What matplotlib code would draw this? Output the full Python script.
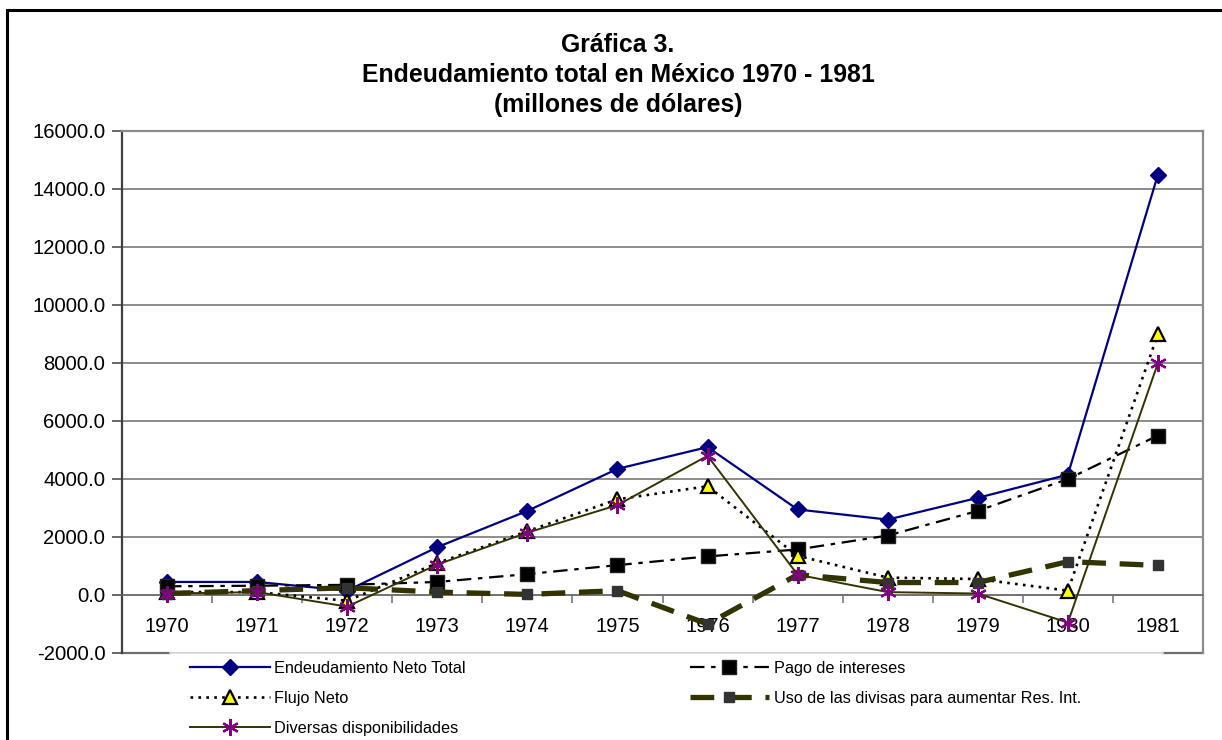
import matplotlib
matplotlib.use("Agg")
import matplotlib.pyplot as plt
from matplotlib.patches import Rectangle

plt.rcParams['font.family'] = ['Liberation Sans', 'DejaVu Sans']

years = ['1970', '1971', '1972', '1973', '1974', '1975', '1976', '1977', '1978', '1979', '1980', '1981']
endeudamiento = [450, 450, 150, 1650, 2900, 4350, 5100, 2950, 2600, 3350, 4150, 14500]
pago_intereses = [300, 320, 350, 450, 720, 1030, 1330, 1570, 2050, 2900, 4000, 5500]
flujo_neto = [100, 100, -200, 1100, 2200, 3300, 3750, 1350, 600, 550, 150, 9000]
uso_divisas = [50, 150, 250, 100, 20, 150, -1000, 700, 430, 430, 1150, 1020]
diversas = [50, 100, -400, 1050, 2150, 3100, 4800, 700, 100, 50, -950, 8000]

labels = ['Endeudamiento Neto Total', 'Pago de intereses', 'Flujo Neto',
          'Uso de las divisas para aumentar Res. Int.', 'Diversas disponibilidades']

W, H = 1222, 740
fig = plt.figure(figsize=(W / 100, H / 100), dpi=100)
fig.patch.set_facecolor('white')

# outer frame
fig.add_artist(Rectangle((7 / W, -0.1), 1.2, 1.1 - 10 / H, transform=fig.transFigure,
                         fill=False, edgecolor='black', linewidth=2.2))

L, R, T, B = 122, 1203, 131, 653
ax = fig.add_axes([L / W, 1 - B / H, (R - L) / W, (B - T) / H])
x = list(range(len(years)))

ax.spines['bottom'].set_position(('data', 0))
ax.spines['bottom'].set_color('#6e6e6e')
ax.spines['bottom'].set_linewidth(1.1)
ax.spines['left'].set_color('#404040')
ax.spines['left'].set_linewidth(1.6)
ax.spines['top'].set_color('#8c8c8c')
ax.spines['top'].set_linewidth(1.6)
ax.spines['right'].set_color('#8c8c8c')
ax.spines['right'].set_linewidth(1.6)

ax.set_ylim(-2000, 16000)
ax.set_xlim(-0.5, len(years) - 0.5)
ax.set_yticks(range(-2000, 16001, 2000))
ax.set_yticklabels([f'{v:.1f}' for v in range(-2000, 16001, 2000)])
ax.yaxis.grid(True, color='#6e6e6e', linewidth=1.1)
ax.set_axisbelow(True)

ax.set_xticks(x)
ax.set_xticklabels(years)
ax.set_xticks([i + 0.5 for i in range(-1, len(years))], minor=True)
ax.tick_params(axis='x', which='major', length=0, pad=16, labelsize=14.5)
ax.tick_params(axis='x', which='minor', length=6, width=1.1, color='#6e6e6e', direction='out')
ax.tick_params(axis='y', length=7, width=1.1, color='#404040', pad=5, labelsize=14.6)

# bottom border of plot area (partly hidden by legend)
lx0 = (170 - L) / (R - L)
lx1 = (1163 - L) / (R - L)
ax.plot([0, lx0], [0, 0], transform=ax.transAxes, color='#6e6e6e', lw=1.6, clip_on=False)
ax.plot([lx1, 1], [0, 0], transform=ax.transAxes, color='#6e6e6e', lw=1.6, clip_on=False)
ax.plot([lx0, lx1], [0, 0], transform=ax.transAxes, color='#dcdcdc', lw=1.2, clip_on=False)

olive = '#333300'
h1, = ax.plot(x, endeudamiento, color='#000080', lw=1.6, marker='D', markersize=8,
              markerfacecolor='#000080', markeredgecolor='#000080', zorder=3)
h2, = ax.plot(x, pago_intereses, color='black', lw=1.6, linestyle=(0, (6.5, 3, 2, 3)),
              marker='s', markersize=10, markerfacecolor='black', markeredgecolor='#202020', zorder=4)
h3, = ax.plot(x, flujo_neto, color='black', lw=1.9, linestyle=(0, (1, 2)),
              dash_capstyle='butt', marker='^', markersize=10, markerfacecolor='#ffff00',
              markeredgecolor='black', markeredgewidth=1.6, zorder=5)
h4, = ax.plot(x, uso_divisas, color=olive, lw=3.8, linestyle=(0, (4.5, 2.6)),
              dash_capstyle='butt', marker='s', markersize=6.5, markerfacecolor='#333333',
              markeredgecolor='#333333', zorder=6)
h5, = ax.plot(x, diversas, color=olive, lw=1.4, marker=(6, 2, 0), markersize=12,
              markeredgecolor='#800080', markeredgewidth=1.6, zorder=7)

for h in (h1, h2, h3, h4, h5):
    h.set_clip_on(False)

leg = fig.legend([h1, h3, h5, h2, h4],
                 [labels[0], labels[2], labels[4], labels[1], labels[3]],
                 ncol=2, loc='upper left', bbox_to_anchor=(190 / W, 1 - 661 / H),
                 frameon=False, fontsize=11.7, handlelength=4.9, handletextpad=0.3,
                 columnspacing=13.75, labelspacing=0.92, borderpad=0, borderaxespad=0)

# title
title_lines = ['Gráfica 3.', 'Endeudamiento total en México 1970 - 1981', '(millones de dólares)']
for i, t in enumerate(title_lines):
    fig.text(618 / W, 1 - (45 + 30 * i) / H, t, ha='center', va='center',
             fontsize=17.9, fontweight='bold')

fig.savefig('out.png', dpi=100, facecolor='white')
